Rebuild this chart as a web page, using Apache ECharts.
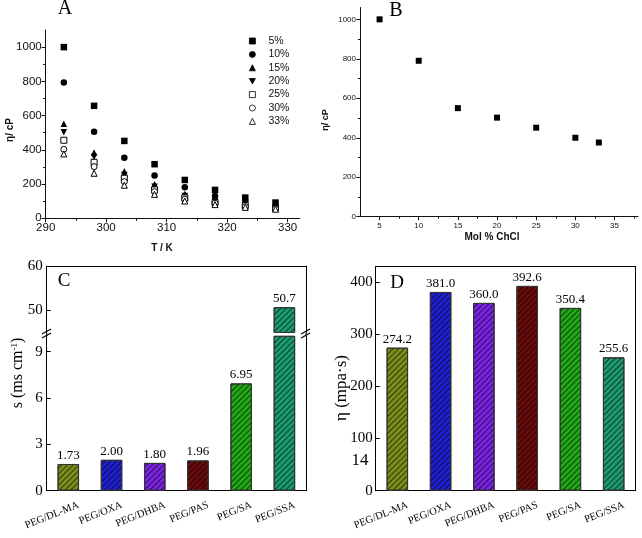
<!DOCTYPE html>
<html><head><meta charset="utf-8">
<script src="https://cdn.jsdelivr.net/npm/echarts@6/dist/echarts.min.js"></script>
<style>html,body{margin:0;padding:0;background:#fff}#c{width:642px;height:538px}</style>
</head><body><div id="c"></div>
<script>
// ---------- Panel A data ----------
const temps = [293, 298, 303, 308, 313, 318, 323, 328];
const seriesNamesA = ['5%', '10%', '15%', '20%', '25%', '30%', '33%'];
const visc5  = [1000, 657, 452, 316, 224, 166, 121, 92];
const visc10 = [793, 505, 353, 250, 181, 131, 101, 74];
const visc15 = [552, 384, 275, 199, 142, 111, 88, 66];
const visc20 = [503, 358, 253, 185, 131, 101, 82, 62];
const visc25 = [456, 327, 234, 166, 119, 92, 74, 58];
const visc30 = [403, 302, 214, 156, 111, 88, 68, 55];
const visc33 = [376, 263, 193, 140, 101, 80, 64, 53];
const xTicksA = [290, 300, 310, 320, 330];
const xMinorA = [295, 305, 315, 325];
const yTicksA = [0, 200, 400, 600, 800, 1000];
const yMinorA = [100, 300, 500, 700, 900];
// ---------- Panel B data ----------
const molPct = [5, 10, 15, 20, 25, 30, 33];
const viscB = [1000, 790, 550, 502, 451, 400, 376];
const xTicksB = [5, 10, 15, 20, 25, 30, 35];
const xMinorB = [7.5, 12.5, 17.5, 22.5, 27.5, 32.5, 37.5];
const yTicksB = [0, 200, 400, 600, 800, 1000];
const yMinorB = [100, 300, 500, 700, 900];
// ---------- Panel C / D data ----------
const desNames = ['PEG/DL-MA', 'PEG/OXA', 'PEG/DHBA', 'PEG/PAS', 'PEG/SA', 'PEG/SSA'];
const conductivity = [1.73, 2.00, 1.80, 1.96, 6.95, 50.7];
const viscD = [274.2, 381.0, 360.0, 392.6, 350.4, 255.6];
const yTicksCUpper = [50, 60];
const yTicksCLower = [0, 3, 6, 9];
const yTicksD = [0, 100, 200, 300, 400];

// ---------- styles ----------
const barColors = ['#7c8e1a', '#1f1fd0', '#7a24e2', '#6a0b0b', '#22a816', '#1c9a72'];
const downTri = 'path://M0,0 L10,0 L5,9 Z';
const symbolsA = [
  {symbol: 'rect', fill: '#000'},
  {symbol: 'circle', fill: '#000'},
  {symbol: 'triangle', fill: '#000'},
  {symbol: downTri, fill: '#000'},
  {symbol: 'rect', fill: '#fff'},
  {symbol: 'circle', fill: '#fff'},
  {symbol: 'triangle', fill: '#fff'}
];
const seriesDataA = [visc5, visc10, visc15, visc20, visc25, visc30, visc33];
const SANS = '"Liberation Sans", Arial, sans-serif';
const SERIF = '"Liberation Serif", "Times New Roman", serif';
const INK = '#111';
const plain = v => String(v);

const C_UP_MIN = 45, C_UP_MAX = 60, C_LO_MAX = 10;

const chart = echarts.init(document.getElementById('c'), null, {renderer: 'canvas'});

function valAxis(o) {
  return Object.assign({
    type: 'value', splitLine: {show: false},
    axisLine: {show: true, onZero: false, lineStyle: {color: INK, width: 1}},
    axisTick: {show: false}, axisLabel: {show: false}
  }, o);
}
function minorAxis(o, vals, len) {
  return valAxis(Object.assign({
    axisLine: {show: false},
    axisTick: {show: true, customValues: vals, length: len, inside: false, lineStyle: {color: INK}}
  }, o));
}

const hatch = {
  symbol: 'rect', symbolSize: 1, dashArrayX: [1, 0], dashArrayY: [1, 2.4],
  rotation: -Math.PI / 4, color: 'rgba(0,0,0,0.6)'
};

const series = [];
seriesNamesA.forEach((n, k) => {
  const open = symbolsA[k].fill === '#fff';
  series.push({
    type: 'scatter', name: n, xAxisIndex: 0, yAxisIndex: 0,
    symbol: symbolsA[k].symbol, symbolSize: open ? 6 : 6.5,
    itemStyle: {color: symbolsA[k].fill, borderColor: '#000', borderWidth: open ? 1 : 0, opacity: 1},
    data: temps.map((t, i) => [t, seriesDataA[k][i]])
  });
});
series.push({
  type: 'scatter', name: 'B', xAxisIndex: 2, yAxisIndex: 2,
  symbol: 'rect', symbolSize: 6, itemStyle: {color: '#000', opacity: 1},
  data: molPct.map((m, i) => [m, viscB[i]])
});
const barCommon = {
  type: 'bar', barWidth: 21.5,
  itemStyle: {borderColor: '#333', borderWidth: 1, decal: hatch},
  label: {show: true, position: 'top', distance: 2, fontFamily: SERIF, fontSize: 13, color: '#000'},
  emphasis: {disabled: true}
};
series.push(Object.assign({}, barCommon, {
  name: 'C upper', xAxisIndex: 4, yAxisIndex: 4,
  data: conductivity.map((v, i) => ({
    value: v >= C_UP_MIN ? v : '-', itemStyle: {color: barColors[i]}, label: {show: v >= C_UP_MIN}
  })),
  label: Object.assign({}, barCommon.label, {formatter: p => p.value.toFixed(1)})
}));
series.push(Object.assign({}, barCommon, {
  name: 'C lower', xAxisIndex: 5, yAxisIndex: 6,
  data: conductivity.map((v, i) => ({
    value: v, itemStyle: {color: barColors[i]}, label: {show: v <= C_LO_MAX}
  })),
  label: Object.assign({}, barCommon.label, {formatter: p => p.value.toFixed(2)})
}));
series.push(Object.assign({}, barCommon, {
  name: 'D', xAxisIndex: 6, yAxisIndex: 8,
  data: viscD.map((v, i) => ({value: v, itemStyle: {color: barColors[i]}})),
  label: Object.assign({}, barCommon.label, {formatter: p => p.value.toFixed(1)})
}));

const catLabel = {show: true, rotate: 22, fontFamily: SERIF, fontSize: 10.5, color: '#000',
  margin: 18, padding: [0, -11, 0, 0], interval: 0};

const option = {
  animation: false,
  grid: [
    {left: 45.7, top: 30, width: 254, height: 188.3},          // A
    {left: 360, top: 7.5, width: 278, height: 209.2},          // B
    {left: 46.7, top: 266, width: 259.3, height: 66.5},        // C upper
    {left: 46.7, top: 336.3, width: 259.3, height: 154.4},     // C lower
    {left: 375.7, top: 266.4, width: 259.6, height: 224.3}     // D
  ],
  legend: {
    data: seriesNamesA, orient: 'vertical', left: 249, top: 35, padding: 0,
    itemWidth: 6, itemHeight: 6, itemGap: 1.4, selectedMode: false,
    itemStyle: {borderWidth: 0.8},
    textStyle: {fontFamily: SANS, fontSize: 10.5, lineHeight: 12, color: INK, padding: [0, 0, 0, 8]}
  },
  xAxis: [
    valAxis({gridIndex: 0, min: 290, max: 332, position: 'bottom',
      axisTick: {show: true, customValues: xTicksA, length: 4, lineStyle: {color: INK}},
      axisLabel: {show: true, customValues: xTicksA, formatter: plain, fontFamily: SANS, fontSize: 11.5, color: INK, margin: 4}}),
    minorAxis({gridIndex: 0, min: 290, max: 332, position: 'bottom'}, xMinorA, 2.5),
    valAxis({gridIndex: 1, min: 2.5, max: 38, position: 'bottom',
      axisTick: {show: true, customValues: xTicksB, length: 3.5, lineStyle: {color: INK}},
      axisLabel: {show: true, customValues: xTicksB, formatter: plain, fontFamily: SANS, fontSize: 8, color: INK, margin: 5}}),
    minorAxis({gridIndex: 1, min: 2.5, max: 38, position: 'bottom'}, xMinorB, 2),
    {type: 'category', gridIndex: 2, position: 'top', data: desNames,
      axisLine: {show: true, onZero: false, lineStyle: {color: '#000'}}, axisTick: {show: false}, axisLabel: {show: false}},
    {type: 'category', gridIndex: 3, position: 'bottom', data: desNames,
      axisLine: {show: true, onZero: false, lineStyle: {color: '#000'}}, axisTick: {show: false}, axisLabel: catLabel},
    {type: 'category', gridIndex: 4, position: 'bottom', data: desNames,
      axisLine: {show: true, onZero: false, lineStyle: {color: '#000'}}, axisTick: {show: false}, axisLabel: catLabel},
    {type: 'category', gridIndex: 4, position: 'top', data: desNames,
      axisLine: {show: true, onZero: false, lineStyle: {color: '#000'}}, axisTick: {show: false}, axisLabel: {show: false}}
  ],
  yAxis: [
    valAxis({gridIndex: 0, min: 0, max: 1100, position: 'left',
      axisTick: {show: true, customValues: yTicksA, length: 4, lineStyle: {color: INK}},
      axisLabel: {show: true, customValues: yTicksA, formatter: plain, fontFamily: SANS, fontSize: 11.5, color: INK, margin: 4}}),
    minorAxis({gridIndex: 0, min: 0, max: 1100, position: 'left'}, yMinorA, 2.5),
    valAxis({gridIndex: 1, min: 0, max: 1060, position: 'left',
      axisTick: {show: true, customValues: yTicksB, length: 3.5, lineStyle: {color: INK}},
      axisLabel: {show: true, customValues: yTicksB, formatter: plain, fontFamily: SANS, fontSize: 8, color: INK, margin: 4}}),
    minorAxis({gridIndex: 1, min: 0, max: 1060, position: 'left'}, yMinorB, 2),
    valAxis({gridIndex: 2, min: C_UP_MIN, max: C_UP_MAX, position: 'left',
      axisLine: {show: true, onZero: false, lineStyle: {color: '#000'}},
      axisTick: {show: true, inside: true, customValues: yTicksCUpper, length: 4, lineStyle: {color: '#000'}},
      axisLabel: {show: true, customValues: yTicksCUpper, formatter: plain, fontFamily: SERIF, fontSize: 15, color: '#000', margin: 4}}),
    valAxis({gridIndex: 2, min: C_UP_MIN, max: C_UP_MAX, position: 'right',
      axisLine: {show: true, onZero: false, lineStyle: {color: '#000'}}}),
    valAxis({gridIndex: 3, min: 0, max: C_LO_MAX, position: 'left',
      axisLine: {show: true, onZero: false, lineStyle: {color: '#000'}},
      axisTick: {show: true, inside: true, customValues: yTicksCLower, length: 4, lineStyle: {color: '#000'}},
      axisLabel: {show: true, customValues: yTicksCLower, formatter: plain, fontFamily: SERIF, fontSize: 15, color: '#000', margin: 4}}),
    valAxis({gridIndex: 3, min: 0, max: C_LO_MAX, position: 'right',
      axisLine: {show: true, onZero: false, lineStyle: {color: '#000'}}}),
    valAxis({gridIndex: 4, min: 0, max: 430, position: 'left',
      axisLine: {show: true, onZero: false, lineStyle: {color: '#000'}},
      axisTick: {show: true, inside: true, customValues: yTicksD, length: 4, lineStyle: {color: '#000'}},
      axisLabel: {show: true, customValues: yTicksD, formatter: plain, fontFamily: SERIF, fontSize: 15, color: '#000', margin: 3}}),
    valAxis({gridIndex: 4, min: 0, max: 430, position: 'right',
      axisLine: {show: true, onZero: false, lineStyle: {color: '#000'}}})
  ],
  series: series,
  graphic: [
    {type: 'text', x: 65, y: 9, style: {text: 'A', font: '20px ' + SERIF, fill: '#000', align: 'center', verticalAlign: 'middle'}},
    {type: 'text', x: 396, y: 11, style: {text: 'B', font: '20px ' + SERIF, fill: '#000', align: 'center', verticalAlign: 'middle'}},
    {type: 'text', x: 64, y: 281, style: {text: 'C', font: '19px ' + SERIF, fill: '#000', align: 'center', verticalAlign: 'middle'}},
    {type: 'text', x: 397, y: 283, style: {text: 'D', font: '19px ' + SERIF, fill: '#000', align: 'center', verticalAlign: 'middle'}},
    {type: 'text', x: 10, y: 130, rotation: Math.PI / 2, style: {text: 'η/ cP', font: 'bold 10px ' + SANS, fill: INK, align: 'center', verticalAlign: 'middle'}},
    {type: 'text', x: 326, y: 120, rotation: Math.PI / 2, style: {text: 'η/ cP', font: 'bold 9px ' + SANS, fill: INK, align: 'center', verticalAlign: 'middle'}},
    {type: 'text', x: 162, y: 248, style: {text: 'T / K', font: 'bold 10px ' + SANS, fill: INK, align: 'center', verticalAlign: 'middle'}},
    {type: 'text', x: 492, y: 237, style: {text: 'Mol % ChCl', font: 'bold 10px ' + SANS, fill: INK, align: 'center', verticalAlign: 'middle'}},
    {type: 'text', x: 18, y: 373, rotation: Math.PI / 2, style: {
      text: 's (ms cm{sup|-1})', font: '16px ' + SERIF, fill: '#000', align: 'center', verticalAlign: 'middle',
      rich: {sup: {fontFamily: SERIF, fontSize: 9, verticalAlign: 'top', lineHeight: 10}}}},
    {type: 'text', x: 342, y: 388, rotation: Math.PI / 2, style: {text: 'η (mpa·s)', font: '17px ' + SERIF, fill: '#000', align: 'center', verticalAlign: 'middle'}},
    {type: 'text', x: 360, y: 461, style: {text: '14', font: '17px ' + SERIF, fill: '#000', align: 'center', verticalAlign: 'middle'}},
    // axis-break bridges and marks (panel C)
    {type: 'line', shape: {x1: 46.7, y1: 332.5, x2: 46.7, y2: 336.3}, style: {stroke: '#000', lineWidth: 1}},
    {type: 'line', shape: {x1: 306, y1: 332.5, x2: 306, y2: 336.3}, style: {stroke: '#000', lineWidth: 1}},
    {type: 'line', shape: {x1: 42, y1: 334, x2: 51, y2: 329}, style: {stroke: '#000', lineWidth: 1.2}},
    {type: 'line', shape: {x1: 42, y1: 338, x2: 51, y2: 333}, style: {stroke: '#000', lineWidth: 1.2}},
    {type: 'line', shape: {x1: 301, y1: 334, x2: 310, y2: 329}, style: {stroke: '#000', lineWidth: 1.2}},
    {type: 'line', shape: {x1: 301, y1: 338, x2: 310, y2: 333}, style: {stroke: '#000', lineWidth: 1.2}}
  ]
};
chart.setOption(option);
</script>
</body></html>
